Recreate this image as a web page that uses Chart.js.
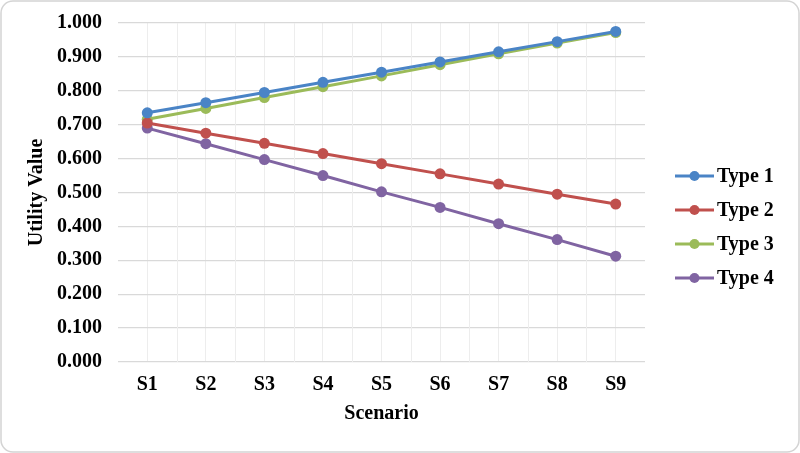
<!DOCTYPE html>
<html>
<head>
<meta charset="utf-8">
<script src="https://cdn.jsdelivr.net/npm/chart.js@4/dist/chart.umd.min.js"></script>
<style>
  html, body { margin: 0; padding: 0; background: #fff; }
  #wrap { position: relative; width: 800px; height: 453px; }
</style>
</head>
<body>
<div id="wrap"><canvas id="c" width="800" height="453"></canvas></div>
<script>
const categories = ['S1', 'S2', 'S3', 'S4', 'S5', 'S6', 'S7', 'S8', 'S9'];
const seriesNames = ['Type 1', 'Type 2', 'Type 3', 'Type 4'];
const type1 = [0.735, 0.765, 0.795, 0.825, 0.855, 0.885, 0.915, 0.945, 0.975];
const type2 = [0.705, 0.675, 0.645, 0.615, 0.585, 0.555, 0.525, 0.495, 0.466];
const type3 = [0.716, 0.748, 0.780, 0.812, 0.844, 0.877, 0.909, 0.941, 0.972];
const type4 = [0.690, 0.644, 0.597, 0.550, 0.502, 0.456, 0.408, 0.361, 0.312];
const colors = ['#4A84C6', '#C0504D', '#9BBB59', '#8064A2'];
const seriesValues = [type1, type2, type3, type4];

const FONT = '"Liberation Serif", "Times New Roman", serif';

const bgPlugin = {
  id: 'bg',
  beforeDraw(chart) {
    const ctx = chart.ctx;
    ctx.save();
    ctx.fillStyle = '#fff';
    ctx.fillRect(0, 0, chart.width, chart.height);
    ctx.strokeStyle = '#d4d4d4';
    ctx.lineWidth = 1.5;
    ctx.beginPath();
    ctx.roundRect(1, 1, chart.width - 2, chart.height - 2, 12);
    ctx.stroke();
    ctx.restore();
  }
};

// minor vertical gridlines between categories
const minorGrid = {
  id: 'minorGrid',
  beforeDatasetsDraw(chart) {
    const xs = chart.scales.x;
    const area = chart.chartArea;
    const ctx = chart.ctx;
    ctx.save();
    ctx.strokeStyle = '#ededed';
    ctx.lineWidth = 1;
    for (let i = 1; i < categories.length; i++) {
      const x = Math.round((xs.getPixelForValue(i - 1) + xs.getPixelForValue(i)) / 2) + 0.5;
      ctx.beginPath();
      ctx.moveTo(x, area.top);
      ctx.lineTo(x, area.bottom);
      ctx.stroke();
    }
    ctx.restore();
  }
};

const legendPlugin = {
  id: 'customLegend',
  afterDraw(chart) {
    const ctx = chart.ctx;
    ctx.save();
    chart.data.datasets.forEach((ds, i) => {
      const y = 176 + i * 34;
      const x0 = 675, x1 = 714;
      ctx.strokeStyle = ds.borderColor;
      ctx.lineWidth = 3;
      ctx.beginPath();
      ctx.moveTo(x0, y);
      ctx.lineTo(x1, y);
      ctx.stroke();
      ctx.fillStyle = ds.borderColor;
      ctx.beginPath();
      ctx.arc((x0 + x1) / 2, y, 5, 0, Math.PI * 2);
      ctx.fill();
      ctx.fillStyle = '#000';
      ctx.font = 'bold 20px ' + FONT;
      ctx.textBaseline = 'middle';
      ctx.textAlign = 'left';
      ctx.fillText(ds.label, 717, y + 1);
    });
    ctx.restore();
  }
};

new Chart(document.getElementById('c'), {
  type: 'line',
  data: {
    labels: categories,
    datasets: seriesValues.map((vals, i) => ({
      label: seriesNames[i],
      data: vals,
      borderColor: colors[i],
      backgroundColor: colors[i],
      borderWidth: 3,
      pointRadius: 5.5,
      pointHoverRadius: 5.5,
      pointBorderWidth: 0,
      tension: 0
    }))
  },
  options: {
    responsive: false,
    animation: false,
    devicePixelRatio: 1,
    layout: { autoPadding: false, padding: { left: 25, right: 155, top: 23, bottom: 27 } },
    plugins: {
      legend: { display: false },
      tooltip: { enabled: false }
    },
    scales: {
      x: {
        offset: true,
        afterFit: s => { s.height = 64; s.paddingLeft = 0; s.paddingRight = 0; },
        grid: { offset: false, color: '#ededed', lineWidth: 1, drawTicks: false },
        border: { display: false },
        ticks: { color: '#000', font: { family: FONT, size: 20, weight: 'bold' }, padding: 11 },
        title: { display: true, text: 'Scenario', color: '#000', font: { family: FONT, size: 20, weight: 'bold' }, padding: { top: 0, bottom: 0 } }
      },
      y: {
        min: 0,
        max: 1,
        afterFit: s => { s.width = 93; s.paddingTop = 0; s.paddingBottom = 0; },
        ticks: {
          stepSize: 0.1,
          color: '#000',
          font: { family: FONT, size: 20, weight: 'bold' },
          padding: 16,
          callback: v => v.toFixed(3)
        },
        grid: { color: '#d9d9d9', lineWidth: 1.3, drawTicks: false },
        border: { display: false },
        title: { display: true, text: 'Utility Value', color: '#000', font: { family: FONT, size: 20, weight: 'bold' }, padding: { top: 0, bottom: 0 } }
      }
    }
  },
  plugins: [bgPlugin, minorGrid, legendPlugin]
});
</script>
</body>
</html>
